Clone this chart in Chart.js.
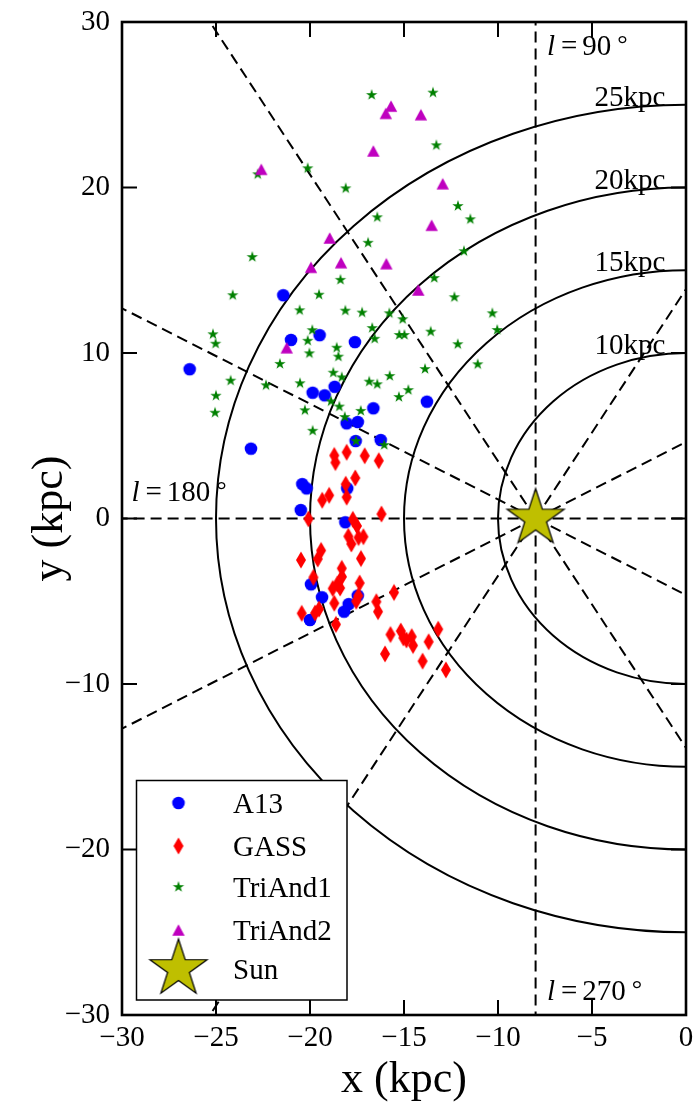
<!DOCTYPE html>
<html><head><meta charset="utf-8">
<script src="https://cdn.jsdelivr.net/npm/chart.js@4.4.0/dist/chart.umd.min.js"></script>
<style>html,body{margin:0;padding:0;background:#fff;}canvas{display:block;}</style>
</head><body>
<canvas id="c" width="697" height="1106"></canvas>
<script>
// ---------- data ----------
const xTicks = [-30, -25, -20, -15, -10, -5, 0];
const yTicks = [-30, -20, -10, 0, 10, 20, 30];

const a13X = [-26.40,-21.42,-21.01,-19.49,-17.61,-19.86,-19.22,-18.69,-16.63,-13.78,-18.05,-17.46,-17.57,-16.24,-23.14,-20.41,-20.18,-18.02,-20.49,-18.12,-19.95,-19.36,-17.46,-17.94,-18.19,-20.00];
const a13Y = [9.02,13.49,10.79,11.08,10.66,7.60,7.44,7.96,6.66,7.06,5.75,5.83,4.68,4.74,4.22,2.08,1.82,1.82,0.51,-0.23,-3.98,-4.76,-4.66,-5.17,-5.63,-6.13];

const gassX = [-18.71,-18.65,-18.05,-17.09,-16.34,-17.59,-18.10,-18.05,-18.98,-19.35,-16.20,-20.08,-17.72,-17.50,-17.96,-17.80,-17.42,-17.16,-19.41,-19.59,-20.48,-17.29,-18.31,-18.30,-19.82,-18.55,-18.79,-18.40,-17.36,-17.43,-17.54,-18.71,-19.52,-19.73,-20.44,-16.47,-15.53,-16.38,-18.62,-15.72,-15.17,-15.03,-14.87,-14.59,-14.52,-13.69,-13.18,-16.01,-14.01,-12.77];
const gassY = [3.81,3.38,4.00,3.79,3.49,2.45,2.07,1.29,1.40,1.10,0.27,-0.03,-0.05,-0.45,-1.08,-1.54,-1.15,-1.10,-1.93,-2.45,-2.51,-2.42,-3.01,-3.52,-3.56,-3.96,-4.23,-4.20,-3.90,-4.67,-5.00,-5.12,-5.47,-5.71,-5.73,-5.03,-4.47,-5.63,-6.40,-7.01,-6.80,-7.22,-7.34,-7.14,-7.67,-7.45,-6.69,-8.18,-8.62,-9.15];

const tri1X = [-22.78,-20.12,-23.07,-16.72,-13.46,-13.28,-18.10,-12.13,-11.47,-16.42,-16.91,-11.81,-18.38,-13.39,-24.11,-20.55,-19.52,-25.16,-25.02,-19.88,-20.12,-20.03,-21.60,-24.22,-22.34,-20.53,-25.00,-25.05,-20.27,-19.86,-12.32,-18.12,-17.23,-15.78,-15.07,-10.30,-16.69,-16.56,-15.25,-14.98,-13.58,-10.04,-12.14,-18.58,-18.49,-13.88,-11.08,-18.76,-18.31,-16.85,-16.42,-15.76,-14.77,-15.27,-18.88,-18.44,-17.30,-18.15,-17.55,-16.05];
const tri1Y = [20.80,21.16,15.80,25.59,25.73,22.55,19.95,18.88,18.08,18.20,16.66,16.15,14.42,14.53,13.49,12.58,13.52,11.13,10.56,11.38,10.74,9.98,9.34,8.33,8.05,8.17,7.42,6.39,6.54,5.30,13.37,12.56,12.44,12.40,12.04,12.40,11.51,10.86,11.09,11.09,11.29,11.39,10.53,10.32,9.78,9.03,9.32,8.81,8.53,8.27,8.11,8.61,7.76,7.34,7.08,6.76,6.50,6.13,4.68,4.44];

const tri2X = [-22.59,-21.24,-19.95,-18.95,-18.35,-16.63,-15.97,-15.69,-14.10,-12.94,-13.53,-15.94,-14.24];
const tri2Y = [21.10,10.32,15.18,16.95,15.46,22.21,24.48,24.92,24.40,20.23,17.72,15.40,13.81];

const sunX = [-8];
const sunY = [0];

const ringRadii = [10, 15, 20, 25];
const lineAngles = [0, 30, 60, 90, 120, 150, 180, 210, 240, 270, 300, 330];
const lonLabels = [90, 180, 270];

// ---------- styles ----------
const SERIF = "'Liberation Serif', 'Times New Roman', 'DejaVu Serif', serif";
const zip = (xs, ys) => xs.map((v, i) => ({x: v, y: ys[i]}));
const fmt = v => (v < 0 ? '\u2212' + Math.abs(v) : String(v));

function mk(size, draw) {
  const c = document.createElement('canvas');
  c.width = c.height = size;
  const g = c.getContext('2d');
  g.translate(size / 2, size / 2);
  draw(g);
  return c;
}
function starPath(g, R, ratio) {
  g.beginPath();
  for (let i = 0; i < 10; i++) {
    const rr = i % 2 === 0 ? R : R * ratio;
    const a = -Math.PI / 2 + i * Math.PI / 5;
    g.lineTo(rr * Math.cos(a), rr * Math.sin(a));
  }
  g.closePath();
}
const imgCircle = mk(16, g => { g.beginPath(); g.arc(0, 0, 6.3, 0, 2 * Math.PI); g.fillStyle = '#0000ff'; g.fill(); });
const imgDiamond = mk(20, g => { g.beginPath(); g.moveTo(0, -8.5); g.lineTo(5, 0); g.lineTo(0, 8.5); g.lineTo(-5, 0); g.closePath(); g.fillStyle = '#ff0000'; g.fill(); });
const imgStar = mk(14, g => { starPath(g, 6, 0.382); g.fillStyle = '#008000'; g.fill(); });
const imgTri = mk(16, g => { g.beginPath(); g.moveTo(0, -5.8); g.lineTo(6.2, 5.8); g.lineTo(-6.2, 5.8); g.closePath(); g.fillStyle = '#bf00bf'; g.fill(); });
const imgSun = mk(66, g => { starPath(g, 30, 0.382); g.fillStyle = '#bfbf00'; g.fill(); g.lineWidth = 1.2; g.strokeStyle = '#000'; g.stroke(); });

const zeroPad = s => { s.paddingLeft = 0; s.paddingRight = 0; s.paddingTop = 0; s.paddingBottom = 0; };

// ---------- plugins ----------
const guides = {
  id: 'guides',
  beforeDatasetsDraw(chart) {
    const {ctx, chartArea: a, scales: {x, y}} = chart;
    ctx.save();
    ctx.beginPath();
    ctx.rect(a.left, a.top, a.right - a.left, a.bottom - a.top);
    ctx.clip();
    ctx.strokeStyle = '#000';
    ctx.lineWidth = 2;
    const cx = x.getPixelForValue(0), cy = y.getPixelForValue(0);
    ringRadii.forEach(r => {
      const rx = Math.abs(x.getPixelForValue(r) - cx);
      const ry = Math.abs(y.getPixelForValue(r) - cy);
      ctx.beginPath();
      ctx.ellipse(cx, cy, rx, ry, 0, 0, 2 * Math.PI);
      ctx.stroke();
    });
    ctx.setLineDash([11, 6]);
    ctx.lineWidth = 2;
    const sx = x.getPixelForValue(sunX[0]), sy = y.getPixelForValue(sunY[0]);
    lineAngles.forEach(d => {
      const t = d * Math.PI / 180, L = 80;
      const ex = x.getPixelForValue(sunX[0] + L * Math.cos(t));
      const ey = y.getPixelForValue(sunY[0] + L * Math.sin(t));
      ctx.beginPath();
      ctx.moveTo(sx, sy);
      ctx.lineTo(ex, ey);
      ctx.stroke();
    });
    ctx.restore();
  },
  afterDatasetsDraw(chart) {
    const {ctx, scales: {x, y}} = chart;
    ctx.save();
    ctx.fillStyle = '#000';
    ctx.font = '29px ' + SERIF;
    ctx.textAlign = 'right';
    ctx.textBaseline = 'alphabetic';
    ringRadii.forEach(r => {
      ctx.fillText(r + 'kpc', x.getPixelForValue(-1.1), y.getPixelForValue(r) + 1);
    });
    // longitude labels
    const pos = {90: [-7.4, 28.0], 180: [-29.5, 1.05], 270: [-7.4, -29.1]};
    ctx.textAlign = 'left';
    lonLabels.forEach(l => {
      let px = x.getPixelForValue(pos[l][0]);
      const py = y.getPixelForValue(pos[l][1]);
      ctx.font = 'italic 29px ' + SERIF;
      ctx.fillText('l', px, py);
      px += ctx.measureText('l').width + 6;
      ctx.font = '29px ' + SERIF;
      ctx.fillText('=', px, py);
      px += ctx.measureText('=').width + 5;
      ctx.fillText(String(l), px, py);
      px += ctx.measureText(String(l)).width + 6;
      ctx.font = '26px ' + SERIF;
      ctx.fillText('\u00b0', px, py - 3);
    });
    ctx.restore();
  },
  afterDraw(chart) {
    const {ctx, chartArea: a, scales: {x, y}} = chart;
    ctx.save();
    // legend
    const box = {l: 136.5, t: 780.5, w: 210.5, h: 219.5};
    ctx.fillStyle = '#fff';
    ctx.fillRect(box.l, box.t, box.w, box.h);
    ctx.strokeStyle = '#000';
    ctx.lineWidth = 1.5;
    ctx.strokeRect(box.l, box.t, box.w, box.h);
    const rows = [803, 846, 887, 930, 969];
    ctx.font = '29px ' + SERIF;
    ctx.fillStyle = '#000';
    ctx.textAlign = 'left';
    ctx.textBaseline = 'alphabetic';
    chart.data.datasets.forEach((ds, k) => {
      const im = ds.pointStyle;
      ctx.drawImage(im, 178.5 - im.width / 2, rows[k] - im.height / 2);
      ctx.fillText(ds.label, 233, rows[k] + 10);
    });
    // frame
    ctx.lineWidth = 2.6;
    ctx.strokeRect(a.left, a.top, a.right - a.left, a.bottom - a.top);
    ctx.lineWidth = 2;
    const TL = 15;
    xTicks.forEach(v => {
      const p = x.getPixelForValue(v);
      ctx.beginPath();
      ctx.moveTo(p, a.bottom); ctx.lineTo(p, a.bottom - TL);
      ctx.moveTo(p, a.top); ctx.lineTo(p, a.top + TL);
      ctx.stroke();
    });
    yTicks.forEach(v => {
      const p = y.getPixelForValue(v);
      ctx.beginPath();
      ctx.moveTo(a.left, p); ctx.lineTo(a.left + TL, p);
      ctx.moveTo(a.right, p); ctx.lineTo(a.right - TL, p);
      ctx.stroke();
    });
    ctx.restore();
  }
};

const tickFont = {family: SERIF, size: 29};
const pt = {pointRadius: 2, pointHoverRadius: 2, pointBorderWidth: 0, pointHitRadius: 2};
new Chart(document.getElementById('c'), {
  type: 'scatter',
  data: {
    datasets: [
      Object.assign({label: 'A13', data: zip(a13X, a13Y), pointStyle: imgCircle, order: 5}, pt),
      Object.assign({label: 'GASS', data: zip(gassX, gassY), pointStyle: imgDiamond, order: 4}, pt),
      Object.assign({label: 'TriAnd1', data: zip(tri1X, tri1Y), pointStyle: imgStar, order: 3}, pt),
      Object.assign({label: 'TriAnd2', data: zip(tri2X, tri2Y), pointStyle: imgTri, order: 2}, pt),
      Object.assign({label: 'Sun', data: zip(sunX, sunY), pointStyle: imgSun, order: 1, clip: false}, pt)
    ]
  },
  options: {
    responsive: false,
    animation: false,
    devicePixelRatio: 1,
    layout: {padding: {top: 22, right: 11, left: 0, bottom: 0}},
    plugins: {legend: {display: false}, tooltip: {enabled: false}},
    scales: {
      x: {
        type: 'linear', min: -30, max: 0,
        afterBuildTicks: s => { s.ticks = xTicks.map(v => ({value: v})); },
        afterFit: s => { s.height = 91; zeroPad(s); },
        grid: {display: false, drawTicks: false},
        border: {display: false},
        ticks: {font: tickFont, color: '#000', padding: 6, callback: fmt, maxRotation: 0, autoSkip: false},
        title: {display: true, text: 'x (kpc)', color: '#000', font: {family: SERIF, size: 44, lineHeight: 1}, padding: {top: 0, bottom: 4}}
      },
      y: {
        type: 'linear', min: -30, max: 30,
        afterBuildTicks: s => { s.ticks = yTicks.map(v => ({value: v})); },
        afterFit: s => { s.width = 122; zeroPad(s); },
        grid: {display: false, drawTicks: false},
        border: {display: false},
        ticks: {font: tickFont, color: '#000', padding: 12, callback: fmt, autoSkip: false},
        title: {display: true, text: 'y (kpc)', color: '#000', font: {family: SERIF, size: 44, lineHeight: 1}, padding: {top: 28, bottom: 0}}
      }
    }
  },
  plugins: [guides]
});
</script>
</body></html>
